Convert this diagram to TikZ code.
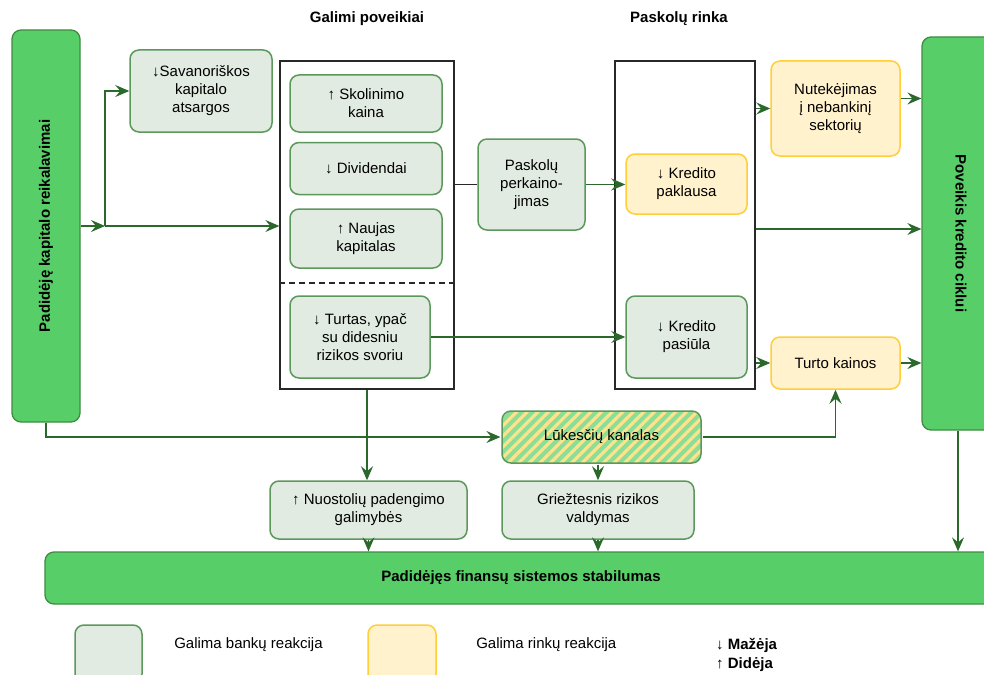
\documentclass[tikz,border=0pt]{standalone}
\usepackage{fontspec}
\setmainfont{Liberation Sans}
\usepackage{xcolor}
\usetikzlibrary{arrows.meta, positioning, calc, patterns.meta}
\definecolor{maingreen}{RGB}{88,206,104}
\definecolor{mainline}{RGB}{62,140,66}
\definecolor{bankfill}{RGB}{225,235,225}
\definecolor{bankline}{RGB}{92,152,92}
\definecolor{mktfill}{RGB}{255,242,204}
\definecolor{mktline}{RGB}{255,206,56}
\definecolor{arrowgreen}{RGB}{42,104,44}
\definecolor{hatchgreen}{RGB}{140,222,150}
\definecolor{hatchyellow}{RGB}{255,226,140}
\definecolor{framegray}{RGB}{40,40,40}
\tikzset{
    mainbox/.style={rectangle, draw=mainline, fill=maingreen, rounded corners=9pt, line width=1.3pt},
    bank/.style={rectangle, draw=bankline, fill=bankfill, rounded corners=9pt, line width=1.5pt, align=center},
    market/.style={rectangle, draw=mktline, fill=mktfill, rounded corners=9pt, line width=1.5pt, align=center},
    frame/.style={rectangle, draw=framegray, line width=1.3pt},
    hatched/.style={rectangle, draw=bankline, rounded corners=9pt, line width=1.5pt, preaction={fill=hatchgreen}, pattern={Lines[angle=45, distance=7.5pt, line width=3.2pt]}, pattern color=hatchyellow},
    heading/.style={font=\fontsize{15}{18}\selectfont\bfseries},
    boldlabel/.style={font=\fontsize{15}{18}\selectfont\bfseries},
    arrow/.style={-{Stealth[length=14pt, width=12pt, inset=5pt]}, draw=arrowgreen, line width=1.3pt},
    link/.style={draw=framegray, line width=1.3pt},
}

\begin{document}
\begin{tikzpicture}[x=1pt, y=-1pt, every node/.style={font=\fontsize{15}{18}\selectfont}]
    \useasboundingbox (0,0) rectangle (984,674);

    % headings
    \node[heading] (hdimpact) at (367,19) {Galimi poveikiai};
    \node[heading] (hdmarket) at (679,19) {Paskolų rinka};

    % big green blocks
    \node[mainbox, minimum width=68, minimum height=392] (cap) at (46,226) {};
    \node[boldlabel, rotate=90] (captext) at (cap) {Padidėję kapitalo reikalavimai};
    \node[mainbox, minimum width=78, minimum height=393] (pov) at (961,233.5) {};
    \node[boldlabel, rotate=-90] (povtext) at (pov) {Poveikis kredito ciklui};
    \node[mainbox, minimum width=955, minimum height=52] (bar) at (522.5,578) {};
    \node[boldlabel] (bartext) at (521,578) {Padidėjęs finansų sistemos stabilumas};

    % frames
    \node[frame, minimum width=174, minimum height=328] (box1) at (367,225) {};
    \node[frame, minimum width=140, minimum height=328] (box2) at (685,225) {};
    \draw[link, dash pattern=on 6pt off 4pt] ([yshift=-58pt]box1.west) -- ([yshift=-58pt]box1.east);

    % bank side
    \node[bank, minimum width=142, minimum height=82] (sav) at (201,91) {↓Savanoriškos\\kapitalo\\atsargos};
    \node[bank, minimum width=152, minimum height=57] (sko) at (366,103.5) {↑ Skolinimo\\kaina};
    \node[bank, minimum width=152, minimum height=52, below=9pt of sko] (div) {↓ Dividendai};
    \node[bank, minimum width=152, minimum height=59, below=13pt of div] (nau) {↑ Naujas\\kapitalas};
    \node[bank, minimum width=140, minimum height=82] (tur) at (360,337) {↓ Turtas, ypač\\su didesniu\\rizikos svoriu};
    \node[bank, minimum width=107, minimum height=91] (per) at (531.5,184.5) {Paskolų\\perkaino-\\jimas};

    % market side
    \node[market, minimum width=121, minimum height=60] (pak) at (686.5,184) {↓ Kredito\\paklausa};
    \node[bank, minimum width=121, minimum height=82] (pas) at (686.5,337) {↓ Kredito\\pasiūla};
    \node[market, minimum width=129, minimum height=95] (nut) at (835.5,108.5) {Nutekėjimas\\į nebankinį\\sektorių};
    \node[market, minimum width=129, minimum height=52] (tkain) at (835.5,363) {Turto kainos};

    % lower row
    \node[hatched, minimum width=199, minimum height=52] (luk) at (601.5,437) {Lūkesčių kanalas};
    \node[bank, minimum width=197, minimum height=58] (nuo) at (368.5,510) {↑ Nuostolių padengimo\\galimybės};
    \node[bank, minimum width=192, minimum height=58] (gri) at (598,510) {Griežtesnis rizikos\\valdymas};

    % legend
    \node[bank, minimum width=67, minimum height=58] (legbank) at (108.5,654) {};
    \node[right=28pt of legbank.north east, anchor=west, yshift=-20pt] (legbanktext) {Galima bankų reakcija};
    \node[market, minimum width=68, minimum height=58] (legmkt) at (402,654) {};
    \node[right=36pt of legmkt.north east, anchor=west, yshift=-20pt] (legmkttext) {Galima rinkų reakcija};
    \node[boldlabel, anchor=west, inner sep=0pt] (legdown) at (716,645) {↓ Mažėja};
    \node[boldlabel, anchor=west, inner sep=0pt, below=5pt of legdown.south west, anchor=north west] (legup) {↑ Didėja};

    % connectors
    \coordinate (split) at (105,226);
    \draw[arrow] (cap.east) -- (split);
    \draw[arrow] (split) |- (sav.west);
    \draw[arrow] (split) -- (split -| box1.west);
    \draw[link] (box1.east |- per.west) -- (per.west);
    \draw[arrow] (per.east) -- (per.east -| pak.west);
    \draw[arrow] (tur.east) -- (tur.east -| pas.west);
    \draw[arrow] (box2.east |- nut.west) -- (nut.west);
    \draw[arrow] ([yshift=-4pt]box2.east) -- ([yshift=-4pt]box2.east -| pov.west);
    \draw[arrow] (box2.east |- tkain.west) -- (tkain.west);
    \draw[arrow] ([yshift=10pt]nut.east) -- ([yshift=10pt]nut.east -| pov.west);
    \draw[arrow] (tkain.east) -- (tkain.east -| pov.west);
    \draw[arrow] (cap.south) |- (luk.west);
    \draw[arrow] (luk.east) -| (tkain.south);
    \draw[arrow] (box1.south) -- (box1.south |- nuo.north);
    \draw[arrow] (luk.south -| gri.north) -- (gri.north);
    \draw[arrow] (nuo.south) -- (nuo.south |- bar.north);
    \draw[arrow] (gri.south) -- (gri.south |- bar.north);
    \draw[arrow] ([xshift=-3pt]pov.south) -- ([xshift=-3pt]pov.south |- bar.north);
\end{tikzpicture}
\end{document}
